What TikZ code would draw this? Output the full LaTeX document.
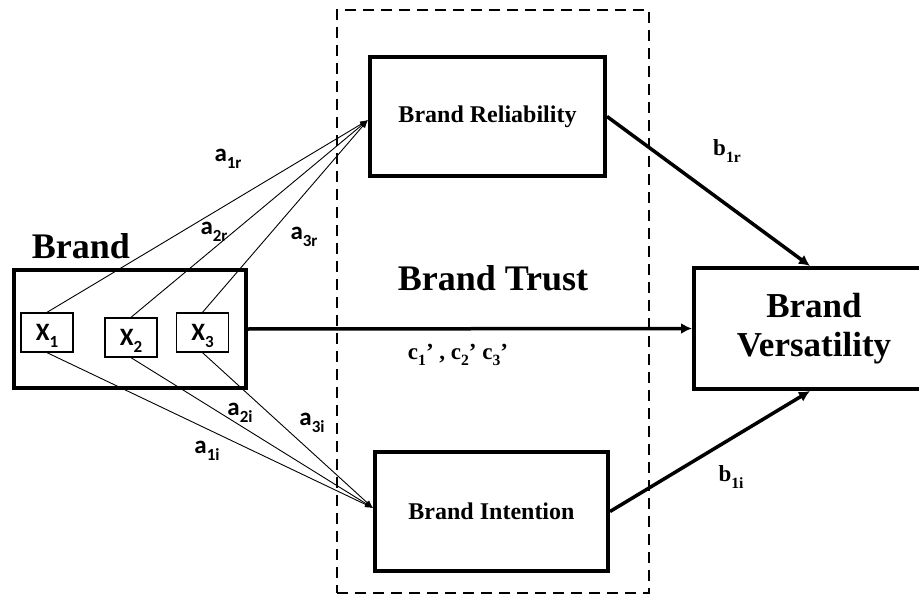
\documentclass[tikz,border=0pt]{standalone}
\usepackage{fontspec}
\usepackage{graphicx}
\setmainfont{Liberation Serif}
\newfontfamily\calib{Carlito}
\usetikzlibrary{arrows.meta}
% lowered, reduced index for path coefficients
\newcommand\subidx[1]{\raisebox{-0.28em}{\scalebox{0.68}{#1}}}

\begin{document}
\begin{tikzpicture}[x=1pt,y=-1pt,
  heavybox/.style={draw, line width=4pt, inner sep=0pt},
  varbox/.style={draw, line width=1.3pt, minimum width=52pt, minimum height=39pt,
    inner sep=0pt, text depth=0pt, font=\calib\bfseries\fontsize{25}{28}\selectfont},
  groupbox/.style={draw, line width=2pt, dash pattern=on 11pt off 7pt,
    minimum width=312pt, minimum height=583pt, inner sep=0pt},
  thinpath/.style={line width=0.9pt, -{Latex[length=8pt,width=6pt]}},
  thickpath/.style={line width=3.5pt, -{Latex[length=11pt,width=11pt]}},
  coef/.style={font=\calib\bfseries\fontsize{25}{28}\selectfont, inner sep=0pt},
  sercoef/.style={font=\bfseries\fontsize{23}{26}\selectfont, inner sep=0pt},
  bigtitle/.style={font=\bfseries\fontsize{36}{40}\selectfont, inner sep=0pt},
  midtitle/.style={font=\bfseries\fontsize{24}{28}\selectfont},
]
\useasboundingbox (0,0) rectangle (919,599);

% mediator group
\node[groupbox] (trust) at (493,301.5) {};
\node[bigtitle] (trustlbl) at (493,278) {Brand Trust};

% predictor block with its three indicators
\node[heavybox, minimum width=232pt, minimum height=118pt] (brand) at (130,329) {};
\node[bigtitle] (brandlbl) at (81,246) {Brand};
\node[varbox] (x1) at (47,332.5) {X\subidx{1}};
\node[varbox] (x2) at (131,337.5) {X\subidx{2}};
\node[varbox] (x3) at (202.5,332.5) {X\subidx{3}};

% mediators
\node[heavybox, minimum width=235pt, minimum height=119pt, midtitle] (rel) at (487.5,116.5) {Brand Reliability};
\node[heavybox, minimum width=233pt, minimum height=119pt, midtitle] (int) at (491.5,511.5) {Brand Intention};

% outcome
\node[heavybox, minimum width=240pt, minimum height=121pt, align=center,
  font=\bfseries\fontsize{35}{39}\selectfont] (vers) at (814,328.5) {Brand\\Versatility};

% a-paths
\coordinate (relin) at (368,120);
\coordinate (intin) at (373,508);
\draw[thinpath] (x1.north) -- (relin);
\draw[thinpath] (x2.north) -- (relin);
\draw[thinpath] (x3.north) -- (relin);
\draw[thinpath] (x1.south) -- (intin);
\draw[thinpath] (x2.south) -- (intin);
\draw[thinpath] (x3.south) -- (intin);

% direct and b-paths
\draw[thickpath] (brand.east) -- (vers.west);
\draw[thickpath] (rel.east) -- ([xshift=-4pt]vers.north);
\draw[thickpath] (int.east) -- ([xshift=-4pt]vers.south);

% coefficients
\node[coef] (a1r) at (228,159) {a\subidx{1r}};
\node[coef] (a2r) at (214,232) {a\subidx{2r}};
\node[coef] (a3r) at (304,237) {a\subidx{3r}};
\node[coef] (a2i) at (240,413) {a\subidx{2i}};
\node[coef] (a3i) at (312,423) {a\subidx{3i}};
\node[coef] (a1i) at (207,451) {a\subidx{1i}};
\node[sercoef] (c) at (458,355) {c\subidx{1}' , c\subidx{2}' c\subidx{3}'};
\node[sercoef] (b1r) at (727,151) {b\subidx{1r}};
\node[sercoef] (b1i) at (731,477) {b\subidx{1i}};
\end{tikzpicture}
\end{document}
